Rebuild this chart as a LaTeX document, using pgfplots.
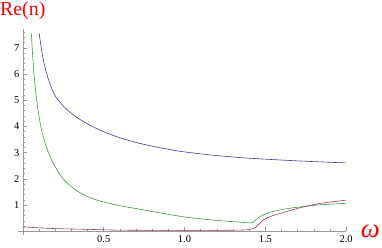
\documentclass[border=0pt]{standalone}
\usepackage{pgfplots}
\pgfplotsset{compat=1.18}
\usepackage{fontspec}
\setmainfont{Liberation Serif}
\definecolor{mblue}{rgb}{0.24,0.24,0.6}
\definecolor{mgreen}{rgb}{0.24,0.6,0.24}
\definecolor{mpink}{rgb}{0.6,0.24,0.42}
\definecolor{axgray}{rgb}{0.6,0.6,0.6}
\begin{document}
\begin{tikzpicture}
\begin{axis}[
  scale only axis,
  width=329bp, height=206.5bp,
  xmin=-0.03, xmax=2.0,
  ymin=-0.15, ymax=7.7,
  axis lines=middle,
  axis line style={-, axgray, line width=0.6pt},
  clip=false,
  tick align=inside,
  xtick={0.5,1,1.5,2},
  xticklabels={0.5,1.0,1.5,2.0},
  minor xtick={0.1,0.2,0.3,0.4,0.6,0.7,0.8,0.9,1.1,1.2,1.3,1.4,1.6,1.7,1.8,1.9},
  ytick={1,2,3,4,5,6,7},
  yticklabels={1,2,3,4,5,6,7},
  minor ytick={0.2,0.4,0.6,0.8,1.2,1.4,1.6,1.8,2.2,2.4,2.6,2.8,3.2,3.4,3.6,3.8,4.2,4.4,4.6,4.8,5.2,5.4,5.6,5.8,6.2,6.4,6.6,6.8,7.2,7.4,7.6},
  major tick length=4bp,
  minor tick length=2bp,
  tick style={axgray, line width=0.5pt},
  ticklabel style={font=\fontsize{10.5}{12}\selectfont, black},
  xticklabel style={yshift=-1bp},
  every axis plot/.append style={line width=0.6pt, smooth},
]
\addplot[mblue] coordinates {
(0.10,7.57) (0.12,6.75) (0.14,6.18) (0.16,5.76) (0.18,5.43) (0.20,5.16)
(0.25,4.78) (0.30,4.50) (0.35,4.28) (0.40,4.10) (0.45,3.94) (0.50,3.80)
(0.60,3.57) (0.70,3.39) (0.80,3.25) (0.90,3.13) (1.00,3.03) (1.20,2.89)
(1.40,2.79) (1.60,2.72) (1.80,2.66) (2.00,2.61)};
\addplot[mgreen] coordinates {
(0.0525,7.55) (0.06,6.74) (0.07,5.92) (0.08,5.27) (0.095,4.56) (0.115,3.88)
(0.146,3.20) (0.187,2.61) (0.22,2.26) (0.249,2.00) (0.30,1.70) (0.352,1.48)
(0.41,1.30) (0.475,1.16) (0.54,1.06) (0.60,0.98) (0.70,0.87) (0.80,0.76)
(0.90,0.65) (1.00,0.55) (1.10,0.48) (1.20,0.42) (1.30,0.37) (1.38,0.335)
(1.42,0.335) (1.45,0.49) (1.494,0.65) (1.556,0.77) (1.638,0.87) (1.74,0.95)
(1.833,1.01) (1.92,1.045) (2.0,1.07)};
\addplot[mpink] coordinates {
(0.0,0.17) (0.187,0.11) (0.39,0.08) (0.58,0.05) (0.8,0.04) (1.0,0.04)
(1.2,0.04) (1.35,0.05) (1.40,0.07) (1.42,0.10) (1.44,0.15) (1.463,0.29)
(1.494,0.46) (1.556,0.62) (1.638,0.77) (1.74,0.94) (1.833,1.06) (1.92,1.13) (2.0,1.19)};
\node[red, anchor=west, inner sep=0pt, font=\fontsize{20}{22}\selectfont] at (axis cs:-0.142,8.40) {Re(n)};
\node[red, inner sep=0pt, font=\fontsize{27}{29}\selectfont\itshape] at (axis cs:2.15,0.0) {ω};
\end{axis}
\pgfresetboundingbox
\path ([shift={(-18.1bp,-12bp)}]current axis.south west) rectangle ([shift={(36bp,29.5bp)}]current axis.north east);
\end{tikzpicture}
\end{document}
